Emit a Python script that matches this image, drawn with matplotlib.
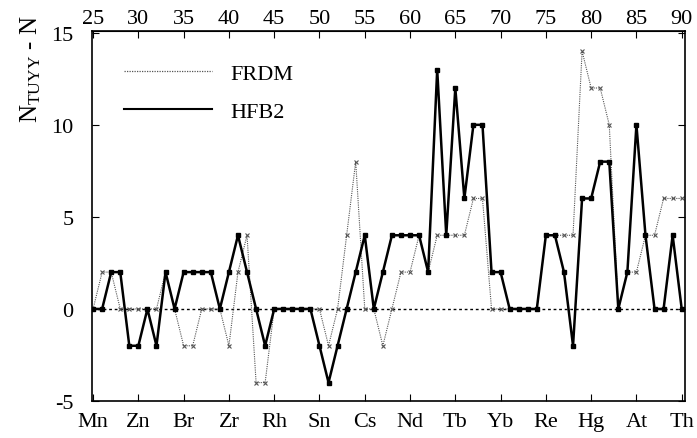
import matplotlib
matplotlib.use("Agg")
import matplotlib.pyplot as plt
from matplotlib.lines import Line2D

plt.rcParams['font.family'] = ['Liberation Serif', 'DejaVu Serif']
plt.rcParams['mathtext.fontset'] = 'custom'
plt.rcParams['mathtext.rm'] = 'Liberation Serif'
plt.rcParams['mathtext.it'] = 'Liberation Serif'

# Proton number Z
z = list(range(25, 91))

# N_TUYY - N for each model
frdm = [0, 2, 2, 0, 0, 0, 0, 0, 2, 0,
        -2, -2, 0, 0, 0, -2, 2, 4, -4, -4,
        0, 0, 0, 0, 0, 0, -2, 0, 4, 8,
        0, 0, -2, 0, 2, 2, 4, 2, 4, 4,
        4, 4, 6, 6, 0, 0, 0, 0, 0, 0,
        4, 4, 4, 4, 14, 12, 12, 10, 0, 2,
        2, 4, 4, 6, 6, 6]
hfb2 = [0, 0, 2, 2, -2, -2, 0, -2, 2, 0,
        2, 2, 2, 2, 0, 2, 4, 2, 0, -2,
        0, 0, 0, 0, 0, -2, -4, -2, 0, 2,
        4, 0, 2, 4, 4, 4, 4, 2, 13, 4,
        12, 6, 10, 10, 2, 2, 0, 0, 0, 0,
        4, 4, 2, -2, 6, 6, 8, 8, 0, 2,
        10, 4, 0, 0, 4, 0]

z_ticks = list(range(25, 91, 5))
elements = ['Mn', 'Zn', 'Br', 'Zr', 'Rh', 'Sn', 'Cs', 'Nd', 'Tb', 'Yb',
            'Re', 'Hg', 'At', 'Th']
y_ticks = [-5, 0, 5, 10, 15]

fig = plt.figure(figsize=(6.97, 4.39), dpi=100)
ax = fig.add_axes([0.1316, 0.0843, 0.851, 0.8430])

ax.axhline(0, color='black', lw=1.0, ls=(0, (2, 2)), zorder=1)
ax.plot(z, frdm, color='#555555', lw=0.8, ls=(0, (1, 1)), marker='x',
        ms=2.5, mew=0.8, zorder=2)
ax.plot(z, hfb2, color='black', lw=1.8, marker='s', ms=3.5, zorder=3)

ax.set_xlim(24.85, 90.35)
ax.set_ylim(-5.0, 15.1)

ax.set_xticks(z_ticks)
ax.set_xticklabels(elements, fontsize=16)
ax.set_yticks(y_ticks)
ax.set_yticklabels([str(v) for v in y_ticks], fontsize=16)
ax.tick_params(axis='both', direction='in', length=5, width=0.8,
               top=True, right=True, labeltop=False)
ax.tick_params(axis='x', pad=8)
ax.tick_params(axis='y', pad=13)

top = ax.secondary_xaxis('top')
top.set_xticks(z_ticks)
top.set_xticklabels([str(v) for v in z_ticks], fontsize=16)
top.tick_params(direction='in', length=0, pad=2)

for s in ax.spines.values():
    s.set_linewidth(1.2)

ax.set_ylabel(r'N$_{\mathrm{TUYY}}$ - N', fontsize=18)
ax.yaxis.set_label_coords(-0.082, 0.9)

handles = [Line2D([], [], color='#555555', lw=0.9, ls=(0, (1, 1))),
           Line2D([], [], color='black', lw=1.5)]
ax.legend(handles, ['FRDM', 'HFB2'], loc='upper left',
          bbox_to_anchor=(0.035, 0.942), frameon=False, fontsize=16,
          handlelength=4.0, handletextpad=0.8, labelspacing=0.78,
          borderpad=0)

fig.savefig('out.png', dpi=100)
